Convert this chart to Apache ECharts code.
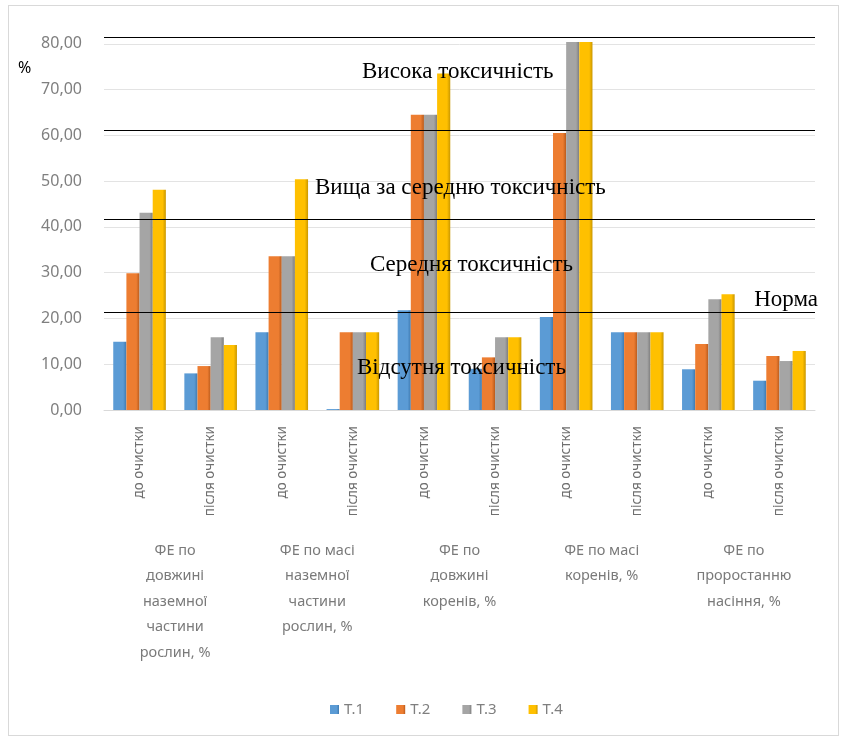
<!DOCTYPE html>
<html>
<head>
<meta charset="utf-8">
<script src="https://cdn.jsdelivr.net/npm/echarts@6/dist/echarts.min.js"></script>
<style>
  html, body { margin: 0; padding: 0; background: #fff; }
  #frame { position: absolute; left: 8px; top: 5px; width: 829px; height: 729px; border: 1px solid #d9d9d9; }
  #main { position: absolute; left: 0; top: 0; width: 847px; height: 736px; }
</style>
</head>
<body>
<div id="frame"></div>
<div id="main"></div>
<script>
    // категорії (внутрішній рівень осі X)
    var stages = ['до очистки', 'після очистки', 'до очистки', 'після очистки', 'до очистки',
                  'після очистки', 'до очистки', 'після очистки', 'до очистки', 'після очистки'];
    // зовнішній рівень осі X
    var groups = ['ФЕ по\nдовжині\nназемної\nчастини\nрослин, %',
                  'ФЕ по масі\nназемної\nчастини\nрослин, %',
                  'ФЕ по\nдовжині\nкоренів, %',
                  'ФЕ по масі\nкоренів, %',
                  'ФЕ по\nпроростанню\nнасіння, %'];
    var seriesNames = ['Т.1', 'Т.2', 'Т.3', 'Т.4'];
    var t1 = [14.9, 8.0, 17.0, 0.2, 21.8, 9.0, 20.3, 17.0, 8.9, 6.4];
    var t2 = [29.9, 9.6, 33.6, 17.0, 64.5, 11.5, 60.5, 17.0, 14.4, 11.8];
    var t3 = [43.1, 15.9, 33.6, 17.0, 64.5, 15.9, 80.4, 17.0, 24.2, 10.7];
    var t4 = [48.1, 14.2, 50.4, 17.0, 73.5, 15.9, 80.4, 17.0, 25.3, 12.9];
    var yTicks = [0, 10, 20, 30, 40, 50, 60, 70, 80];
    // межі рівнів токсичності
    var levels = [21.4, 41.7, 61.2, 81.5];
    var levelNames = ['Відсутня токсичність', 'Середня токсичність', 'Вища за середню токсичність', 'Висока токсичність', 'Норма'];

    var colors = ['#5B9BD5', '#ED7D31', '#A5A5A5', '#FFC000'];
    var darker = ['#3f7ab0', '#b85a1c', '#7d7d7d', '#c99700'];
    var values = [t1, t2, t3, t4];

    var myChart = echarts.init(document.getElementById('main'));

    var series = [];
    for (var i = 0; i < 4; i++) {
        var s = {
            name: seriesNames[i],
            type: 'bar',
            data: values[i],
            barGap: '0%',
            barCategoryGap: '26%',
            itemStyle: {
                color: new echarts.graphic.LinearGradient(0, 0, 1, 0, [
                    {offset: 0, color: colors[i]},
                    {offset: 0.75, color: colors[i]},
                    {offset: 1, color: darker[i]}
                ])
            }
        };
        if (i === 0) {
            s.markLine = {
                symbol: 'none',
                silent: true,
                label: {show: false},
                lineStyle: {color: '#000', type: 'solid', width: 1.2},
                data: levels.map(function (v) { return {yAxis: v}; })
            };
        }
        series.push(s);
    }

    var serif = '"Liberation Serif", "Times New Roman", serif';
    var txt = function (x, y, text, align) {
        return {
            type: 'text', x: x, y: y, z: 100,
            style: {text: text, font: '23px ' + serif, fill: '#000', align: align || 'left', verticalAlign: 'middle'}
        };
    };

    var option = {
        animation: false,
        color: colors,
        grid: {left: 104, right: 32, top: 37, bottom: 326, containLabel: false},
        legend: {
            data: seriesNames,
            bottom: 14,
            left: 325,
            icon: 'rect',
            itemWidth: 9,
            itemHeight: 9,
            itemGap: 32,
            itemStyle: {color: 'inherit'},
            textStyle: {color: '#7f7f7f', fontSize: 15, fontFamily: 'Noto Sans'}
        },
        xAxis: [
            {
                type: 'category',
                data: stages,
                axisLine: {show: true, lineStyle: {color: '#d9d9d9'}},
                axisTick: {show: false},
                axisLabel: {rotate: 90, color: '#6f6f6f', fontSize: 13.5, fontFamily: 'Noto Sans', margin: 16}
            },
            {
                type: 'category',
                data: groups,
                position: 'bottom',
                axisLine: {show: false},
                axisTick: {show: false},
                axisLabel: {color: '#7a7a7a', fontSize: 14.5, lineHeight: 25.5, fontFamily: 'Noto Sans', margin: 128, interval: 0}
            }
        ],
        yAxis: {
            type: 'value',
            min: 0,
            max: 81.5,
            interval: 10,
            axisLine: {show: false},
            axisTick: {show: false},
            splitLine: {lineStyle: {color: '#e3e3e3'}},
            axisLabel: {
                color: '#7f7f7f', fontSize: 16, fontFamily: 'Noto Sans', margin: 22,
                formatter: function (v) { return yTicks.indexOf(v) >= 0 ? v.toFixed(2).replace('.', ',') : ''; }
            }
        },
        graphic: [
            {type: 'text', x: 18, y: 68, style: {text: '%', font: '16px Noto Sans', fill: '#000', verticalAlign: 'middle'}},
            txt(362, 72, levelNames[3]),
            txt(315, 188, levelNames[2]),
            txt(370, 265, levelNames[1]),
            txt(357, 368, levelNames[0]),
            txt(818, 300, levelNames[4], 'right')
        ],
        series: series
    };

    myChart.setOption(option);
</script>
</body>
</html>
